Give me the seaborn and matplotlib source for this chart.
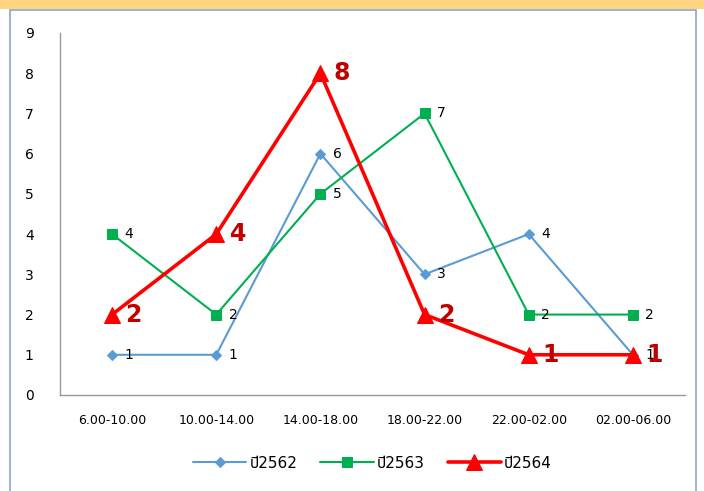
import matplotlib
matplotlib.use("Agg")
import matplotlib.pyplot as plt
import seaborn as sns
import pandas as pd
from matplotlib.patches import Rectangle
from matplotlib import font_manager
from matplotlib.ft2font import FT2Font

categories = ["6.00-10.00", "10.00-14.00", "14.00-18.00", "18.00-22.00", "22.00-02.00", "02.00-06.00"]
series_names = ["ปี2562", "ปี2563", "ปี2564"]
v2562 = [1, 1, 6, 3, 4, 1]
v2563 = [4, 2, 5, 7, 2, 2]
v2564 = [2, 4, 8, 2, 1, 1]
yticks = list(range(0, 10))

# find an installed family with Thai glyphs
thai_fams = set()
for f in font_manager.fontManager.ttflist:
    try:
        cm = FT2Font(f.fname).get_charmap()
        if 0x0E1B in cm and 0x0E35 in cm:
            thai_fams.add(f.name)
    except Exception:
        pass
thai = None
for pref in ["Noto Sans Thai", "Noto Sans Thai Looped", "Sarabun", "Prompt", "Kanit", "Bai Jamjuree", "Athiti"]:
    if pref in thai_fams:
        thai = pref
        break
if thai is None and thai_fams:
    thai = sorted(thai_fams)[0]

sns.set_theme(style="white")
fams = ['DejaVu Sans'] + ([thai] if thai else [])
plt.rcParams['font.family'] = fams
plt.rcParams['text.color'] = 'black'

df = pd.DataFrame({
    "x": list(range(len(categories))) * 3,
    "value": v2562 + v2563 + v2564,
    "series": [series_names[0]] * 6 + [series_names[1]] * 6 + [series_names[2]] * 6,
})

fig = plt.figure(figsize=(7.04, 4.91), dpi=100)
bg1 = Rectangle((0, 1 - 9/491), 1, 9/491, transform=fig.transFigure,
                facecolor="#FFD580", edgecolor="none", zorder=-5)
bg2 = Rectangle((9.5/704, -0.01), (696-9.5)/704, (491-9.5)/491 + 0.01,
                transform=fig.transFigure, facecolor="white",
                edgecolor="#8BA6C6", linewidth=1.2, zorder=-4)
fig.add_artist(bg1)
fig.add_artist(bg2)

ax = fig.add_axes([60/704, 1 - 395/491, (685-60)/704, (395-33)/491])
ax.set_facecolor("none")
ax.set_zorder(1)

colors = {"ปี2562": "#5B9BD5", "ปี2563": "#00B050", "ปี2564": "#FF0000"}
markers = {"ปี2562": "D", "ปี2563": "s", "ปี2564": "^"}
lws = {"ปี2562": 1.5, "ปี2563": 1.5, "ปี2564": 2.6}
msizes = {"ปี2562": 5, "ปี2563": 7, "ปี2564": 11}

for name in series_names:
    sub = df[df.series == name]
    sns.lineplot(data=sub, x="x", y="value", ax=ax, color=colors[name],
                 marker=markers[name], markersize=msizes[name], linewidth=lws[name],
                 markeredgecolor=colors[name], label=name, zorder=3 if name == "ปี2564" else 2)

for name in series_names:
    sub = df[df.series == name]
    for xi, yi in zip(sub.x, sub.value):
        if name == "ปี2564":
            ax.text(xi + 0.13, yi, str(yi), color="#C00000", fontsize=17, fontweight="bold",
                    va="center", ha="left", zorder=5)
        else:
            ax.text(xi + 0.12, yi, str(yi), color="black", fontsize=10,
                    va="center", ha="left", zorder=4)

ax.set_xlim(-0.5, 5.5)
ax.set_ylim(0, 9)
ax.set_yticks(yticks)
ax.set_yticklabels([str(t) for t in yticks], fontsize=10)
ax.set_xticks(range(len(categories)))
ax.set_xticklabels(categories, fontsize=9)
ax.tick_params(axis="both", length=0, colors="black", labelcolor="black")
ax.tick_params(axis="x", pad=14)
ax.tick_params(axis="y", pad=19)
ax.set_xlabel("")
ax.set_ylabel("")
for s in ["top", "right"]:
    ax.spines[s].set_visible(False)
for s in ["left", "bottom"]:
    ax.spines[s].set_color("#999999")
    ax.spines[s].set_linewidth(1)

ax.legend(loc="upper center", bbox_to_anchor=(0.5, -0.13), ncol=3, frameon=False,
          prop={"family": fams, "size": 11}, labelcolor="black",
          handlelength=3.5, columnspacing=1.5, handletextpad=0.2)

fig.savefig("out.png", dpi=100)
